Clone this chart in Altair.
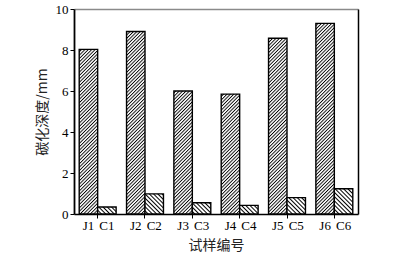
import altair as alt
import pandas as pd

# ---- data ----
pairs = ["1", "2", "3", "4", "5", "6"]
j_values = [8.03, 8.9, 6.0, 5.85, 8.57, 9.3]
c_values = [0.34, 0.98, 0.55, 0.42, 0.8, 1.23]
groups = ["J", "C"]
y_ticks = [0, 2, 4, 6, 8, 10]

rows = []
for p, jv, cv in zip(pairs, j_values, c_values):
    rows.append({"pair": p, "type": "J", "label": "J" + p, "value": jv})
    rows.append({"pair": p, "type": "C", "label": "C" + p, "value": cv})
df = pd.DataFrame(rows)

SERIF = "Liberation Serif"
CJK = "Noto Sans CJK SC"

x_scale = alt.Scale(paddingInner=0.22, paddingOuter=0.11)
xo_scale = alt.Scale(domain=groups, paddingInner=0, paddingOuter=0)
y_scale = alt.Scale(domain=[0, 10], nice=False)

bars = alt.Chart(df).mark_bar(stroke="black", strokeWidth=1.4).encode(
    x=alt.X("pair:N", scale=x_scale, sort=pairs,
            axis=alt.Axis(labels=False, ticks=True, tickSize=4, tickColor="black",
                          tickWidth=1, domainColor="black", domainWidth=1.5,
                          title="试样编号", titleFont=CJK, titleFontSize=14,
                          titleFontWeight="normal", titleColor="#222",
                          titlePadding=20, grid=False)),
    xOffset=alt.XOffset("type:N", scale=xo_scale, sort=groups),
    y=alt.Y("value:Q", scale=y_scale,
            axis=alt.Axis(values=y_ticks, tickSize=4, tickColor="black", tickWidth=1,
                          domainColor="black", domainWidth=1.8, labelFont=SERIF,
                          labelFontSize=13, labelColor="black", labelPadding=2,
                          title="碳化深度/mm", titleFont=CJK, titleFontSize=14,
                          titleFontWeight="normal", titleColor="#222",
                          titlePadding=6, grid=False)),
    fill=alt.Fill("type:N", scale=alt.Scale(domain=groups,
                                            range=["url(#hatchJ)", "url(#hatchC)"]),
                  legend=None),
)

labels = alt.Chart(df).mark_text(font=SERIF, fontSize=13, color="black",
                                 baseline="top", dy=6).encode(
    x=alt.X("pair:N", scale=x_scale, sort=pairs,
            axis=alt.Axis(orient="top", labels=False, ticks=False,
                          domainColor="#8a8a8a", domainWidth=1.6, title=None,
                          grid=False)),
    xOffset=alt.XOffset("type:N", scale=xo_scale, sort=groups),
    y=alt.Y("value:Q", scale=y_scale,
            axis=alt.Axis(orient="right", labels=False, ticks=False,
                          domainColor="black", domainWidth=1.5, title=None,
                          grid=False)),
    yOffset=alt.value(0),
    text="label:N",
).transform_calculate(value="0")

chart = alt.layer(bars, labels).resolve_axis(y="independent", x="independent").properties(
    width=284, height=205,
    autosize=alt.AutoSizeParams(type="none"),
    padding={"left": 74, "top": 9, "right": 45, "bottom": 40},
).configure_view(stroke=None)

DEFS = """
<svg width="0" height="0" style="position:absolute;left:0;top:0">
  <defs>
    <pattern id="hatchJ" patternUnits="userSpaceOnUse" width="2.4" height="2.4"
             patternTransform="rotate(45)">
      <rect x="0" y="0" width="2.4" height="2.4" fill="#fff"/>
      <rect x="0" y="0" width="0.9" height="2.4" fill="#000"/>
    </pattern>
    <pattern id="hatchC" patternUnits="userSpaceOnUse" width="3.0" height="3.0"
             patternTransform="rotate(-45)">
      <rect x="0" y="0" width="3.0" height="3.0" fill="#fff"/>
      <rect x="0" y="0" width="1.0" height="3.0" fill="#000"/>
    </pattern>
  </defs>
</svg>
"""


class PatternTemplate:
    def render(self, **kw):
        from altair.utils.html import HTML_TEMPLATE
        html = HTML_TEMPLATE.render(**kw)
        return html.replace("<div id=", DEFS + "<div id=", 1)


try:
    chart.save("out.html", embed_options={"renderer": "svg", "actions": False},
               template=PatternTemplate())
except Exception:
    chart.save("out.html", embed_options={"renderer": "svg", "actions": False})
